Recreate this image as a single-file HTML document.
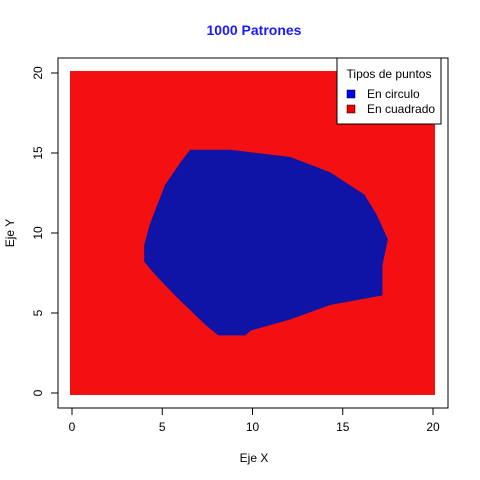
<!DOCTYPE html>
<html><head><meta charset="utf-8"><style>body{margin:0;background:#fff}svg{display:block;font-family:"Liberation Sans",sans-serif}</style></head>
<body>
<svg id="c" width="480" height="480">
<text x="254" y="35" text-anchor="middle" font-size="14" font-weight="bold" fill="#1a1aff">1000 Patrones</text>
<g id="plot"></g>
<rect x="58" y="58" width="390" height="350" fill="none" stroke="#000"/>
<g id="axes" font-size="12"></g>
<text x="254" y="462" text-anchor="middle" font-size="12">Eje X</text>
<text transform="translate(14,233) rotate(-90)" text-anchor="middle" font-size="12">Eje Y</text>
<g>
<rect x="337" y="58" width="104" height="66" fill="#fff" stroke="#000"/>
<text x="389" y="78" text-anchor="middle" font-size="12">Tipos de puntos</text>
<rect x="347" y="90" width="8" height="8" fill="#0000ee" stroke="#000" stroke-width="0.5"/>
<text x="367" y="98" font-size="12">En circulo</text>
<rect x="347" y="105" width="8" height="8" fill="#ee0000" stroke="#000" stroke-width="0.5"/>
<text x="367" y="113" font-size="12">En cuadrado</text>
</g>
</svg>
<script>
const squareRange=[0,20];
const circleX=[6.54,8.75,12.1,14.3,16.2,16.9,17.5,17.2,17.2,14.3,12.1,9.9,9.6,8.1,7.4,5.7,4.6,4.0,4.0,4.3,4.6,5.15,6.0];
const circleY=[15.2,15.2,14.75,13.8,12.4,11.1,9.6,8.0,6.1,5.5,4.6,3.9,3.6,3.6,4.25,6.1,7.4,8.2,9.25,10.5,11.4,13.0,14.4];
const xTicks=[0,5,10,15,20];
const yTicks=[0,5,10,15,20];
const sx=v=>72+v*18.05, sy=v=>393-v*16;
const NS='http://www.w3.org/2000/svg';
const plot=document.getElementById('plot'), axes=document.getElementById('axes');
function mk(t,a,p){const e=document.createElementNS(NS,t);for(const k in a)e.setAttribute(k,a[k]);p.appendChild(e);return e;}
const r=mk('rect',{x:sx(squareRange[0])-2,y:sy(squareRange[1])-2,width:sx(squareRange[1])-sx(squareRange[0])+4,height:sy(squareRange[0])-sy(squareRange[1])+4,fill:'#f41010'},plot);


const pg=mk('polygon',{points:circleX.map((x,i)=>sx(x)+','+sy(circleY[i])).join(' '),fill:'#0f14a6'},plot);


mk('line',{x1:sx(xTicks[0]),x2:sx(xTicks[xTicks.length-1]),y1:408,y2:408,stroke:'#000'},axes);
mk('line',{y1:sy(yTicks[0]),y2:sy(yTicks[yTicks.length-1]),x1:58,x2:58,stroke:'#000'},axes);
xTicks.forEach(v=>{mk('line',{x1:sx(v),x2:sx(v),y1:408,y2:415,stroke:'#000'},axes);
const t=mk('text',{x:sx(v),y:431,'text-anchor':'middle'},axes);t.textContent=v;

});
yTicks.forEach(v=>{mk('line',{y1:sy(v),y2:sy(v),x1:51,x2:58,stroke:'#000'},axes);
const t=mk('text',{transform:`translate(42,${sy(v)}) rotate(-90)`,'text-anchor':'middle'},axes);t.textContent=v;

});
</script>
</body></html>
